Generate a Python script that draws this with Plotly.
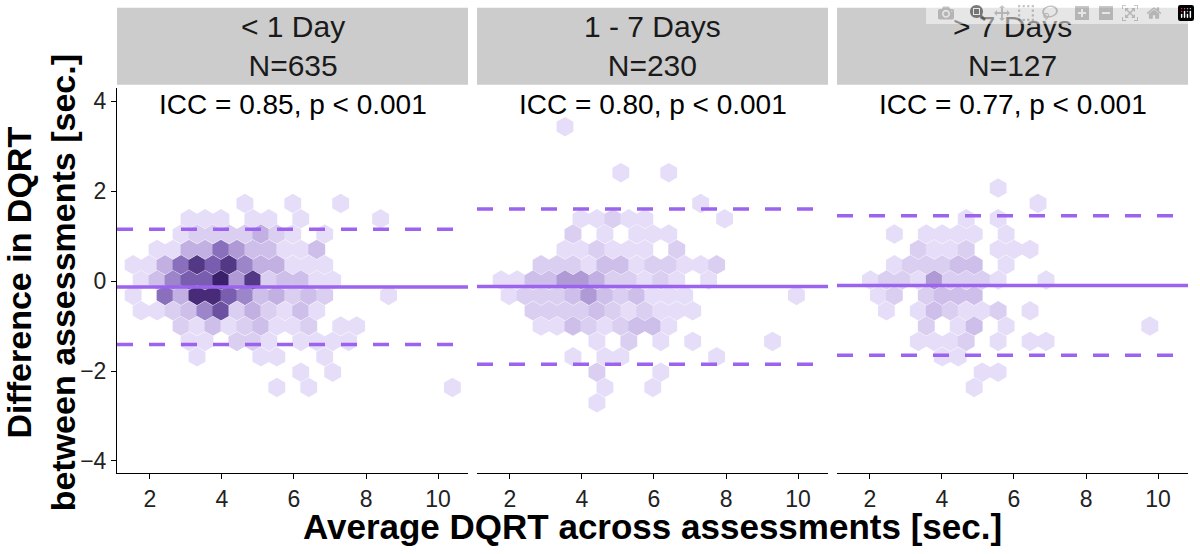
import plotly.graph_objects as go

# ---- data ----
panels = ["< 1 Day", "1 - 7 Days", "> 7 Days"]
n_obs = [635, 230, 127]
icc = ["ICC = 0.85, p < 0.001", "ICC = 0.80, p < 0.001", "ICC = 0.77, p < 0.001"]
mean_diff = [-0.13, -0.12, -0.10]
loa_upper = [1.15, 1.60, 1.45]
loa_lower = [-1.41, -1.85, -1.65]

# hex grid (data units)
hex_dx = 0.443
hex_dy = 0.341
hex_y0 = 1.726
hex_x0 = [1.095, 1.095, 0.91]

# cells per panel: {row: [(col, count), ...]}
cells_1 = {
    0: [(8, 1), (11, 1), (14, 1)],
    1: [(4, 1), (5, 1), (6, 1), (8, 1), (9, 1), (11, 1), (16, 1)],
    2: [(4, 1), (5, 2), (6, 2), (7, 2), (8, 2), (9, 4), (10, 2), (11, 1), (13, 1)],
    3: [(2, 1), (3, 1), (4, 4), (5, 4), (6, 7), (7, 5), (8, 3), (9, 3), (10, 1), (11, 1), (12, 3)],
    4: [(1, 1), (2, 1), (3, 4), (4, 7), (5, 11), (6, 8), (7, 11), (8, 6), (9, 4), (10, 4), (11, 1), (12, 1), (13, 1)],
    5: [(1, 1), (2, 3), (3, 6), (4, 8), (5, 8), (6, 13), (7, 5), (8, 11), (9, 2), (10, 3), (11, 3), (12, 1), (13, 1)],
    6: [(1, 1), (3, 7), (4, 4), (5, 12), (6, 12), (7, 8), (8, 6), (9, 3), (10, 4), (11, 2), (12, 3), (13, 2), (17, 1)],
    7: [(1, 1), (2, 1), (3, 2), (4, 3), (5, 6), (6, 9), (7, 2), (8, 4), (9, 2), (10, 1), (11, 3), (12, 1)],
    8: [(4, 2), (5, 1), (6, 3), (7, 1), (8, 2), (9, 3), (10, 1), (11, 1), (12, 2), (14, 1), (15, 1)],
    9: [(4, 1), (5, 1), (7, 2), (8, 2), (9, 1), (11, 1), (12, 1), (13, 1), (14, 1)],
    10: [(5, 1), (9, 1), (10, 1), (13, 1)],
    11: [(11, 1), (13, 1)],
    12: [(10, 1), (12, 1), (21, 1)],
}
cells_2 = {
    -5: [(5, 1)],
    -2: [(9, 1), (12, 1)],
    0: [(14, 1)],
    1: [(6, 1), (7, 1), (8, 2), (9, 1), (10, 1), (15, 1)],
    2: [(6, 2), (8, 1), (10, 1), (11, 1), (12, 1)],
    3: [(5, 1), (6, 1), (7, 2), (8, 1), (9, 1), (10, 1), (12, 2)],
    4: [(4, 2), (5, 2), (6, 2), (7, 1), (8, 3), (9, 3), (10, 1), (11, 2), (12, 2), (13, 1), (14, 1), (15, 2)],
    5: [(1, 1), (2, 1), (3, 3), (4, 3), (5, 5), (6, 5), (7, 4), (8, 2), (9, 2), (10, 1), (11, 2), (12, 1), (14, 1)],
    6: [(2, 1), (3, 2), (4, 2), (5, 2), (6, 3), (7, 5), (8, 3), (9, 2), (10, 3), (11, 1), (12, 1), (13, 1), (20, 1)],
    7: [(3, 2), (4, 2), (5, 2), (6, 2), (7, 3), (8, 2), (9, 1), (10, 2), (11, 1), (12, 1), (13, 1)],
    8: [(4, 1), (5, 1), (6, 3), (7, 2), (8, 1), (9, 2), (10, 3), (11, 3), (12, 1)],
    9: [(7, 1), (9, 2), (11, 1), (13, 1), (18, 1)],
    10: [(6, 1), (8, 1), (9, 1), (15, 1)],
    11: [(7, 2), (11, 1)],
    12: [(8, 1), (11, 1)],
    13: [(7, 1)],
}
cells_3 = {
    -1: [(10, 1)],
    0: [(13, 1)],
    1: [(8, 1), (10, 1)],
    2: [(4, 1), (6, 1), (7, 1), (8, 1), (9, 1), (11, 1)],
    3: [(5, 2), (6, 1), (7, 1), (8, 2), (10, 1), (11, 1), (12, 1)],
    4: [(4, 1), (5, 2), (6, 2), (7, 2), (8, 3), (9, 3), (11, 1)],
    5: [(2, 1), (3, 2), (4, 2), (5, 1), (6, 5), (7, 2), (8, 2), (9, 2), (10, 1), (13, 1)],
    6: [(3, 1), (4, 2), (6, 2), (7, 3), (8, 3), (9, 3)],
    7: [(3, 1), (5, 1), (6, 3), (7, 2), (8, 1), (9, 1), (10, 2), (12, 1)],
    8: [(6, 2), (8, 1), (9, 3), (11, 1), (20, 1)],
    9: [(5, 1), (6, 1), (7, 1), (8, 2), (10, 1), (12, 1), (13, 1)],
    10: [(7, 1), (8, 1)],
    11: [(9, 1), (10, 1)],
    12: [(9, 1)],
}
all_cells = [cells_1, cells_2, cells_3]

x_ticks = [2, 4, 6, 8, 10]
y_ticks = [-4, -2, 0, 2, 4]
x_range = [1.09, 10.83]
y_range = [-4.27, 4.29]

line_color = "#9B63EE"
colorscale = [[0, "#E6DEF9"], [0.25, "#C2B0E2"], [0.55, "#7E62B4"], [1, "#3A1F6B"]]

domains = [[0.0975, 0.39], [0.3975, 0.69], [0.6975, 0.99]]
ydom = [0.146, 0.841]

fig = go.Figure()
FONT = "Liberation Sans, Arial, sans-serif"

for i in range(3):
    xs, ys, cs = [], [], []
    for r, lst in all_cells[i].items():
        for c, n in lst:
            xs.append(hex_x0[i] + hex_dx * (c + 0.5 * (r % 2)))
            ys.append(hex_y0 - hex_dy * r)
            cs.append(n)
    xa = "x" if i == 0 else f"x{i+1}"
    ya = "y" if i == 0 else f"y{i+1}"
    fig.add_trace(go.Scatter(
        x=xs, y=ys, mode="markers", xaxis=xa, yaxis=ya, showlegend=False,
        marker=dict(symbol="hexagon", size=19.5, color=cs, colorscale=colorscale,
                    cmin=1, cmax=13, line=dict(width=0)),
    ))
    fig.add_trace(go.Scatter(x=x_range, y=[mean_diff[i]] * 2, mode="lines", xaxis=xa, yaxis=ya,
                             showlegend=False, line=dict(color=line_color, width=3.5)))
    for v in (loa_upper[i], loa_lower[i]):
        fig.add_trace(go.Scatter(x=x_range, y=[v] * 2, mode="lines", xaxis=xa, yaxis=ya,
                                 showlegend=False,
                                 line=dict(color=line_color, width=3.5, dash="16px,16px")))
    ax = dict(domain=domains[i], range=x_range, tickvals=x_ticks, showgrid=False, zeroline=False,
              showline=True, linecolor="black", linewidth=1, ticks="outside", ticklen=5,
              tickcolor="black", tickfont=dict(size=23, color="#222", family=FONT),
              anchor=ya)
    ay = dict(domain=ydom, range=y_range, tickvals=y_ticks, showgrid=False, zeroline=False,
              anchor=xa)
    if i == 0:
        ay.update(showline=True, linecolor="black", linewidth=1, ticks="outside", ticklen=5,
                  tickcolor="black", tickfont=dict(size=23, color="#222", family=FONT))
    else:
        ay.update(showticklabels=False, showline=False)
    fig.update_layout(**{("xaxis" if i == 0 else f"xaxis{i+1}"): ax,
                         ("yaxis" if i == 0 else f"yaxis{i+1}"): ay})
    # strip
    fig.add_shape(type="rect", xref="paper", yref="paper", x0=domains[i][0], x1=domains[i][1],
                  y0=0.847, y1=0.986, fillcolor="#CCCCCC", line=dict(width=0), layer="below")
    fig.add_annotation(xref="paper", yref="paper", x=sum(domains[i]) / 2, y=0.9165,
                       xanchor="center", yanchor="middle",
                       text=f"{panels[i]}<br>N={n_obs[i]}", showarrow=False,
                       font=dict(size=30, color="#1a1a1a", family=FONT))
    fig.add_annotation(xref="paper", yref="paper", x=sum(domains[i]) / 2, y=0.812,
                       xanchor="center", yanchor="middle",
                       text=icc[i], showarrow=False,
                       font=dict(size=28, color="black", family=FONT))

fig.add_annotation(xref="paper", yref="paper", x=0.5435, y=0.05,
                   xanchor="center", yanchor="middle",
                   text="<b>Average DQRT across assessments [sec.]</b>", showarrow=False,
                   font=dict(size=35, color="black", family=FONT))
fig.add_annotation(xref="paper", yref="paper", x=0.034, y=0.49, textangle=-90,
                   xanchor="center", yanchor="middle",
                   text="<b>Difference in DQRT<br>between assessments [sec.]</b>", showarrow=False,
                   font=dict(size=34, color="black", family=FONT))

fig.update_layout(width=1200, height=554, margin=dict(l=0, r=0, t=0, b=0),
                  paper_bgcolor="white", plot_bgcolor="white")
fig.write_html("out.html", post_script="document.body.style.margin='0';")
